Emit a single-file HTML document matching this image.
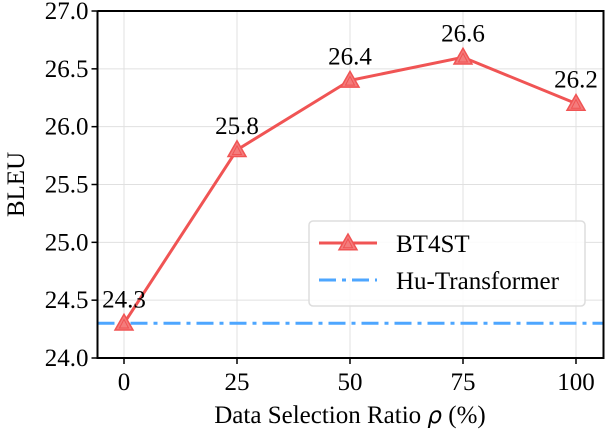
<!DOCTYPE html>
<html><head><meta charset="utf-8"><style>
body{margin:0;background:#fff}
svg{display:block;font-family:"Liberation Serif","Times New Roman",serif}
text{font-family:"Liberation Serif","Times New Roman",serif}
</style></head><body>
<svg id="c" width="606" height="432" font-family="Liberation Serif, serif"></svg>
<script>
const categories=[0,25,50,75,100];
const bt4st=[24.3,25.8,26.4,26.6,26.2];
const baseline=24.3;
const yTicks=[24.0,24.5,25.0,25.5,26.0,26.5,27.0];
const xTicks=[0,25,50,75,100];
const NS="http://www.w3.org/2000/svg";
const svg=document.getElementById('c');
const L=97.5,R=603.5,T=11,B=358;
const FS=25;
const x=v=>124+(v-0)*(576-124)/100;
const y=v=>B-(v-24)*(B-T)/3;
function mk(t,a,p){const e=document.createElementNS(NS,t);for(const k in a)e.setAttribute(k,a[k]);(p||svg).appendChild(e);return e;}
for(const t of yTicks){const g=mk('line',{x1:L,x2:R,y1:y(t),y2:y(t),stroke:'#e0e0e0','stroke-width':1});

}
for(const t of xTicks){const g=mk('line',{x1:x(t),x2:x(t),y1:T,y2:B,stroke:'#e0e0e0','stroke-width':1});

}
const bl=mk('line',{x1:L,x2:R,y1:y(baseline),y2:y(baseline),stroke:'#4da6ff','stroke-width':3,'stroke-dasharray':'17 6 4 6'});


const pl=mk('polyline',{points:categories.map((c,i)=>x(c)+','+y(bt4st[i])).join(' '),fill:'none',stroke:'#f05454','stroke-width':3});


function tri(cx,cy,p,name){const s=9;const m=mk('polygon',{points:`${cx},${cy-s} ${cx-s},${cy+s*0.75} ${cx+s},${cy+s*0.75}`,fill:'#f47c7c',stroke:'#f05454','stroke-width':1.5},p);


const m2=mk('polygon',{points:`${cx},${cy-s+5} ${cx-s+4.5},${cy+s*0.75-2} ${cx+s-4.5},${cy+s*0.75-2}`,fill:'none',stroke:'#f05454','stroke-width':1},p);

}
categories.forEach((c,i)=>{tri(x(c),y(bt4st[i]),svg,'bt4st-marker');
const lb=mk('text',{x:x(c),y:y(bt4st[i])-16,'text-anchor':'middle','font-size':FS});lb.textContent=bt4st[i].toFixed(1);

});
const ax=mk('path',{d:`M${L},${T}V${B}H${R}V${T}H${L}`,fill:'none',stroke:'#000','stroke-width':2});


for(const t of yTicks){mk('line',{x1:L-6,x2:L,y1:y(t),y2:y(t),stroke:'#000','stroke-width':1.5});
const tx=mk('text',{x:L-9,y:y(t)+8,'text-anchor':'end','font-size':FS});tx.textContent=t.toFixed(1);

}
for(const t of xTicks){mk('line',{x1:x(t),x2:x(t),y1:B,y2:B+6,stroke:'#000','stroke-width':1.5});
const tx=mk('text',{x:x(t),y:B+32,'text-anchor':'middle','font-size':FS});tx.textContent=t;

}
const yt=mk('text',{x:0,y:0,transform:`translate(24,${(T+B)/2}) rotate(-90)`,'text-anchor':'middle','font-size':FS});yt.textContent='BLEU';


const xt=mk('text',{x:350,y:423,'text-anchor':'middle','font-size':FS});xt.innerHTML='Data Selection Ratio <tspan font-style="italic" font-family="DejaVu Sans" font-size="23">ρ</tspan> (%)';


const lg=mk('g',{});


mk('rect',{x:309,y:221,width:276,height:85,rx:4,fill:'rgba(255,255,255,0.85)',stroke:'#ddd','stroke-width':1.5},lg);
mk('line',{x1:319,x2:377,y1:243,y2:243,stroke:'#f05454','stroke-width':3},lg);
tri(348,243,lg,'legend-bt4st-marker');
const t1=mk('text',{x:396,y:252,'font-size':FS},lg);t1.textContent='BT4ST';


mk('line',{x1:319,x2:377,y1:280,y2:280,stroke:'#4da6ff','stroke-width':3,'stroke-dasharray':'17 6 4 6'},lg);
const t2=mk('text',{x:396,y:289,'font-size':FS},lg);t2.textContent='Hu-Transformer';


</script>
</body></html>
